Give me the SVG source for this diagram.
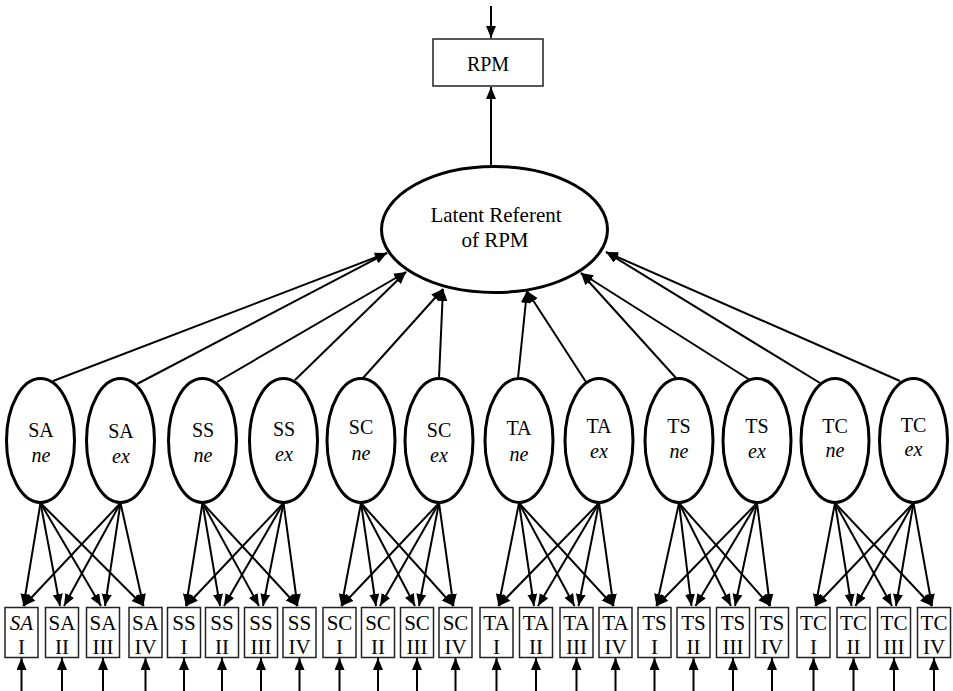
<svg xmlns="http://www.w3.org/2000/svg" width="953" height="691" viewBox="0 0 953 691" font-family="'Liberation Serif', 'DejaVu Serif', serif">
<style>
.lat{fill:#fff;stroke:#000;stroke-width:3}
.box{fill:#fff;stroke:#222;stroke-width:1.5}
.ln{stroke:#000;stroke-width:2;fill:none;marker-end:url(#ah)}
.t{font-family:'Liberation Serif','DejaVu Serif',serif;font-size:20px;fill:#000;text-anchor:middle}
.it{font-style:italic}
.bt{font-size:21px}
</style>
<defs>
<marker id="ah" markerUnits="userSpaceOnUse" markerWidth="13" markerHeight="11" refX="12" refY="5" orient="auto">
<path d="M0,0 L12,5 L0,10 z" fill="#000"/>
</marker>
</defs>
<rect width="953" height="691" fill="#fff"/>

<g id="connectors">
<line class="ln" x1="491" y1="6" x2="491" y2="38"/>
<line class="ln" x1="491" y1="165" x2="491" y2="87"/>
<line class="ln" x1="53" y1="381" x2="387" y2="253"/>
<line class="ln" x1="137" y1="384" x2="387" y2="253"/>
<line class="ln" x1="217" y1="382" x2="406" y2="272"/>
<line class="ln" x1="295" y1="380" x2="406" y2="272"/>
<line class="ln" x1="363" y1="378" x2="443" y2="289"/>
<line class="ln" x1="439" y1="378" x2="443" y2="289"/>
<line class="ln" x1="518" y1="378" x2="527" y2="291"/>
<line class="ln" x1="586" y1="382" x2="527" y2="291"/>
<line class="ln" x1="676" y1="378" x2="581" y2="273"/>
<line class="ln" x1="750" y1="380" x2="581" y2="273"/>
<line class="ln" x1="820" y1="383" x2="606" y2="252"/>
<line class="ln" x1="900" y1="381" x2="606" y2="252"/>
<line class="ln" x1="40.5" y1="503" x2="23.5" y2="606"/>
<line class="ln" x1="40.5" y1="503" x2="60" y2="606"/>
<line class="ln" x1="40.5" y1="503" x2="101" y2="606"/>
<line class="ln" x1="40.5" y1="503" x2="143.5" y2="606"/>
<line class="ln" x1="120.5" y1="503" x2="23.5" y2="606"/>
<line class="ln" x1="120.5" y1="503" x2="64" y2="606"/>
<line class="ln" x1="120.5" y1="503" x2="105" y2="606"/>
<line class="ln" x1="120.5" y1="503" x2="143.5" y2="606"/>
<line class="ln" x1="202.5" y1="503" x2="186" y2="606"/>
<line class="ln" x1="202.5" y1="503" x2="220" y2="606"/>
<line class="ln" x1="202.5" y1="503" x2="259" y2="606"/>
<line class="ln" x1="202.5" y1="503" x2="297.5" y2="606"/>
<line class="ln" x1="283.5" y1="503" x2="186" y2="606"/>
<line class="ln" x1="283.5" y1="503" x2="224" y2="606"/>
<line class="ln" x1="283.5" y1="503" x2="263" y2="606"/>
<line class="ln" x1="283.5" y1="503" x2="297.5" y2="606"/>
<line class="ln" x1="361" y1="503" x2="341.5" y2="606"/>
<line class="ln" x1="361" y1="503" x2="376" y2="606"/>
<line class="ln" x1="361" y1="503" x2="415" y2="606"/>
<line class="ln" x1="361" y1="503" x2="453.5" y2="606"/>
<line class="ln" x1="439" y1="503" x2="341.5" y2="606"/>
<line class="ln" x1="439" y1="503" x2="380" y2="606"/>
<line class="ln" x1="439" y1="503" x2="419" y2="606"/>
<line class="ln" x1="439" y1="503" x2="453.5" y2="606"/>
<line class="ln" x1="519" y1="503" x2="498.5" y2="606"/>
<line class="ln" x1="519" y1="503" x2="534" y2="606"/>
<line class="ln" x1="519" y1="503" x2="574.5" y2="606"/>
<line class="ln" x1="519" y1="503" x2="613.5" y2="606"/>
<line class="ln" x1="599" y1="503" x2="498.5" y2="606"/>
<line class="ln" x1="599" y1="503" x2="538" y2="606"/>
<line class="ln" x1="599" y1="503" x2="578.5" y2="606"/>
<line class="ln" x1="599" y1="503" x2="613.5" y2="606"/>
<line class="ln" x1="679" y1="503" x2="656.5" y2="606"/>
<line class="ln" x1="679" y1="503" x2="691.5" y2="606"/>
<line class="ln" x1="679" y1="503" x2="731" y2="606"/>
<line class="ln" x1="679" y1="503" x2="770" y2="606"/>
<line class="ln" x1="757" y1="503" x2="656.5" y2="606"/>
<line class="ln" x1="757" y1="503" x2="695.5" y2="606"/>
<line class="ln" x1="757" y1="503" x2="735" y2="606"/>
<line class="ln" x1="757" y1="503" x2="770" y2="606"/>
<line class="ln" x1="835" y1="503" x2="815.5" y2="606"/>
<line class="ln" x1="835" y1="503" x2="851.5" y2="606"/>
<line class="ln" x1="835" y1="503" x2="892" y2="606"/>
<line class="ln" x1="835" y1="503" x2="932" y2="606"/>
<line class="ln" x1="913.5" y1="503" x2="815.5" y2="606"/>
<line class="ln" x1="913.5" y1="503" x2="855.5" y2="606"/>
<line class="ln" x1="913.5" y1="503" x2="896" y2="606"/>
<line class="ln" x1="913.5" y1="503" x2="932" y2="606"/>
<line class="ln" x1="21.5" y1="691" x2="21.5" y2="658"/>
<line class="ln" x1="62" y1="691" x2="62" y2="658"/>
<line class="ln" x1="103" y1="691" x2="103" y2="658"/>
<line class="ln" x1="145.5" y1="691" x2="145.5" y2="658"/>
<line class="ln" x1="184" y1="691" x2="184" y2="658"/>
<line class="ln" x1="222" y1="691" x2="222" y2="658"/>
<line class="ln" x1="261" y1="691" x2="261" y2="658"/>
<line class="ln" x1="299.5" y1="691" x2="299.5" y2="658"/>
<line class="ln" x1="339.5" y1="691" x2="339.5" y2="658"/>
<line class="ln" x1="378" y1="691" x2="378" y2="658"/>
<line class="ln" x1="417" y1="691" x2="417" y2="658"/>
<line class="ln" x1="455.5" y1="691" x2="455.5" y2="658"/>
<line class="ln" x1="496.5" y1="691" x2="496.5" y2="658"/>
<line class="ln" x1="536" y1="691" x2="536" y2="658"/>
<line class="ln" x1="576.5" y1="691" x2="576.5" y2="658"/>
<line class="ln" x1="615.5" y1="691" x2="615.5" y2="658"/>
<line class="ln" x1="654.5" y1="691" x2="654.5" y2="658"/>
<line class="ln" x1="693.5" y1="691" x2="693.5" y2="658"/>
<line class="ln" x1="733" y1="691" x2="733" y2="658"/>
<line class="ln" x1="772" y1="691" x2="772" y2="658"/>
<line class="ln" x1="813.5" y1="691" x2="813.5" y2="658"/>
<line class="ln" x1="853.5" y1="691" x2="853.5" y2="658"/>
<line class="ln" x1="894" y1="691" x2="894" y2="658"/>
<line class="ln" x1="934" y1="691" x2="934" y2="658"/>
</g>

<g id="rpm"><rect class="box" x="433" y="39" width="110" height="47"/><text class="t" x="488" y="71">RPM</text></g>
<g id="latent"><ellipse class="lat" cx="494.5" cy="229.5" rx="113" ry="63"/><text class="t" x="496" y="222" style="font-size:21px">Latent Referent</text><text class="t" x="495" y="247" style="font-size:21px">of RPM</text></g>

<g id="SA_ne"><ellipse class="lat" cx="40.5" cy="440.5" rx="34" ry="62"/><text class="t" x="41" y="437">SA</text><text class="t it" x="41" y="462">ne</text></g>
<g id="SA_ex"><ellipse class="lat" cx="120.5" cy="440.5" rx="34" ry="62"/><text class="t" x="121" y="438">SA</text><text class="t it" x="121" y="463">ex</text></g>
<g id="SS_ne"><ellipse class="lat" cx="202.5" cy="440.5" rx="34" ry="62"/><text class="t" x="203" y="437">SS</text><text class="t it" x="203" y="462">ne</text></g>
<g id="SS_ex"><ellipse class="lat" cx="283.5" cy="440.5" rx="34" ry="62"/><text class="t" x="284" y="436">SS</text><text class="t it" x="284" y="461">ex</text></g>
<g id="SC_ne"><ellipse class="lat" cx="361" cy="440.5" rx="34" ry="62"/><text class="t" x="361" y="434">SC</text><text class="t it" x="361" y="460">ne</text></g>
<g id="SC_ex"><ellipse class="lat" cx="439" cy="440.5" rx="34" ry="62"/><text class="t" x="439" y="437">SC</text><text class="t it" x="439" y="462">ex</text></g>
<g id="TA_ne"><ellipse class="lat" cx="519" cy="440.5" rx="34" ry="62"/><text class="t" x="519" y="435">TA</text><text class="t it" x="519" y="461">ne</text></g>
<g id="TA_ex"><ellipse class="lat" cx="599" cy="440.5" rx="34" ry="62"/><text class="t" x="599" y="433">TA</text><text class="t it" x="599" y="458">ex</text></g>
<g id="TS_ne"><ellipse class="lat" cx="679" cy="440.5" rx="34" ry="62"/><text class="t" x="679" y="433">TS</text><text class="t it" x="679" y="458">ne</text></g>
<g id="TS_ex"><ellipse class="lat" cx="757" cy="440.5" rx="34" ry="62"/><text class="t" x="757" y="433">TS</text><text class="t it" x="757" y="458">ex</text></g>
<g id="TC_ne"><ellipse class="lat" cx="835" cy="440.5" rx="34" ry="62"/><text class="t" x="835" y="433">TC</text><text class="t it" x="835" y="457">ne</text></g>
<g id="TC_ex"><ellipse class="lat" cx="913.5" cy="440.5" rx="34" ry="62"/><text class="t" x="913.5" y="432">TC</text><text class="t it" x="913.5" y="456">ex</text></g>

<g id="SA_I"><rect class="box" x="5" y="607.5" width="33" height="50"/><text class="t bt it" x="21.5" y="630">SA</text><text class="t bt" x="21.5" y="654">I</text></g>
<g id="SA_II"><rect class="box" x="45.5" y="607.5" width="33" height="50"/><text class="t bt" x="62" y="630">SA</text><text class="t bt" x="62" y="654">II</text></g>
<g id="SA_III"><rect class="box" x="86.5" y="607.5" width="33" height="50"/><text class="t bt" x="103" y="630">SA</text><text class="t bt" x="103" y="654">III</text></g>
<g id="SA_IV"><rect class="box" x="129" y="607.5" width="33" height="50"/><text class="t bt" x="145.5" y="630">SA</text><text class="t bt" x="145.5" y="654">IV</text></g>
<g id="SS_I"><rect class="box" x="167.5" y="607.5" width="33" height="50"/><text class="t bt" x="184" y="630">SS</text><text class="t bt" x="184" y="654">I</text></g>
<g id="SS_II"><rect class="box" x="205.5" y="607.5" width="33" height="50"/><text class="t bt" x="222" y="630">SS</text><text class="t bt" x="222" y="654">II</text></g>
<g id="SS_III"><rect class="box" x="244.5" y="607.5" width="33" height="50"/><text class="t bt" x="261" y="630">SS</text><text class="t bt" x="261" y="654">III</text></g>
<g id="SS_IV"><rect class="box" x="283" y="607.5" width="33" height="50"/><text class="t bt" x="299.5" y="630">SS</text><text class="t bt" x="299.5" y="654">IV</text></g>
<g id="SC_I"><rect class="box" x="323" y="607.5" width="33" height="50"/><text class="t bt" x="339.5" y="630">SC</text><text class="t bt" x="339.5" y="654">I</text></g>
<g id="SC_II"><rect class="box" x="361.5" y="607.5" width="33" height="50"/><text class="t bt" x="378" y="630">SC</text><text class="t bt" x="378" y="654">II</text></g>
<g id="SC_III"><rect class="box" x="400.5" y="607.5" width="33" height="50"/><text class="t bt" x="417" y="630">SC</text><text class="t bt" x="417" y="654">III</text></g>
<g id="SC_IV"><rect class="box" x="439" y="607.5" width="33" height="50"/><text class="t bt" x="455.5" y="630">SC</text><text class="t bt" x="455.5" y="654">IV</text></g>
<g id="TA_I"><rect class="box" x="480" y="607.5" width="33" height="50"/><text class="t bt" x="496.5" y="630">TA</text><text class="t bt" x="496.5" y="654">I</text></g>
<g id="TA_II"><rect class="box" x="519.5" y="607.5" width="33" height="50"/><text class="t bt" x="536" y="630">TA</text><text class="t bt" x="536" y="654">II</text></g>
<g id="TA_III"><rect class="box" x="560" y="607.5" width="33" height="50"/><text class="t bt" x="576.5" y="630">TA</text><text class="t bt" x="576.5" y="654">III</text></g>
<g id="TA_IV"><rect class="box" x="599" y="607.5" width="33" height="50"/><text class="t bt" x="615.5" y="630">TA</text><text class="t bt" x="615.5" y="654">IV</text></g>
<g id="TS_I"><rect class="box" x="638" y="607.5" width="33" height="50"/><text class="t bt" x="654.5" y="630">TS</text><text class="t bt" x="654.5" y="654">I</text></g>
<g id="TS_II"><rect class="box" x="677" y="607.5" width="33" height="50"/><text class="t bt" x="693.5" y="630">TS</text><text class="t bt" x="693.5" y="654">II</text></g>
<g id="TS_III"><rect class="box" x="716.5" y="607.5" width="33" height="50"/><text class="t bt" x="733" y="630">TS</text><text class="t bt" x="733" y="654">III</text></g>
<g id="TS_IV"><rect class="box" x="755.5" y="607.5" width="33" height="50"/><text class="t bt" x="772" y="630">TS</text><text class="t bt" x="772" y="654">IV</text></g>
<g id="TC_I"><rect class="box" x="797" y="607.5" width="33" height="50"/><text class="t bt" x="813.5" y="630">TC</text><text class="t bt" x="813.5" y="654">I</text></g>
<g id="TC_II"><rect class="box" x="837" y="607.5" width="33" height="50"/><text class="t bt" x="853.5" y="630">TC</text><text class="t bt" x="853.5" y="654">II</text></g>
<g id="TC_III"><rect class="box" x="877.5" y="607.5" width="33" height="50"/><text class="t bt" x="894" y="630">TC</text><text class="t bt" x="894" y="654">III</text></g>
<g id="TC_IV"><rect class="box" x="917.5" y="607.5" width="33" height="50"/><text class="t bt" x="934" y="630">TC</text><text class="t bt" x="934" y="654">IV</text></g>
</svg>
